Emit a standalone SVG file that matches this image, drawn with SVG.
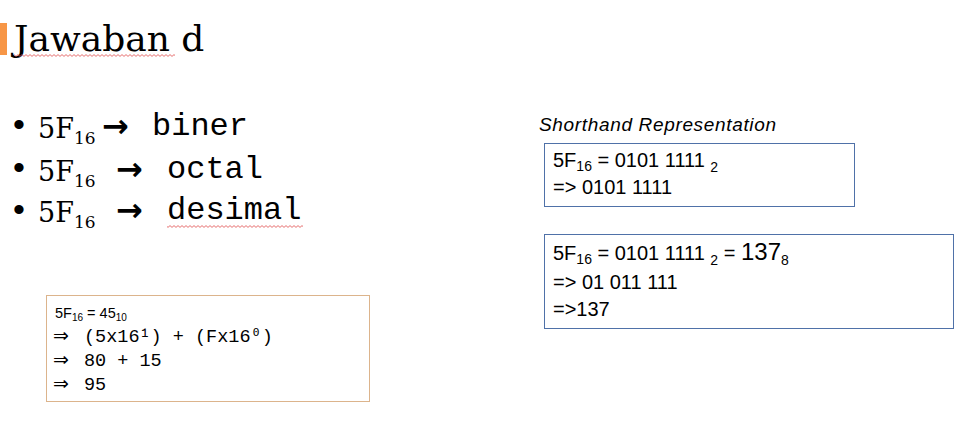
<svg xmlns="http://www.w3.org/2000/svg" width="968" height="421" viewBox="0 0 968 421">
<style>
.serif{font-family:"DejaVu Serif","Liberation Serif",serif;fill:#000}
.mono{font-family:"Liberation Mono","DejaVu Sans Mono",monospace;fill:#000}
.sans{font-family:"Liberation Sans","Noto Sans",sans-serif;fill:#000}
.arr{font-family:"DejaVu Sans",sans-serif;font-weight:bold;fill:#000}
.imp{font-family:"DejaVu Sans",sans-serif;font-weight:normal;fill:#000}
.box{fill:#fff;stroke-width:1}
.blue{stroke:#4f71a8}
.tan{stroke:#dcb48c}
</style>
<defs>
<pattern id="sq" width="4" height="3" patternUnits="userSpaceOnUse">
<path d="M0 2.4 L2 0.6 L4 2.4" fill="none" stroke="#e04a4a" stroke-width="0.8"/>
</pattern>
</defs>
<rect width="968" height="421" fill="#fff"/>

<g id="title">
<rect x="0" y="23" width="7" height="32" fill="#f79646"/>
<text class="serif" x="14" y="51" font-size="36">Jawaban d</text>
<rect x="14" y="54" width="161" height="3" fill="url(#sq)"/>
</g>

<g id="bullets">
<g id="bullet1">
<text class="sans" x="13" y="136" font-size="34">•</text>
<text class="serif" x="38" y="138" font-size="27">5F<tspan font-size="17" dy="6">16</tspan></text>
<text class="arr" x="102" y="137" font-size="32">→</text>
<text class="mono" x="152" y="135" font-size="32">biner</text>
</g>
<g id="bullet2">
<text class="sans" x="13" y="179" font-size="34">•</text>
<text class="serif" x="38" y="181" font-size="27">5F<tspan font-size="17" dy="6">16</tspan></text>
<text class="arr" x="116" y="180" font-size="32">→</text>
<text class="mono" x="167" y="178" font-size="32">octal</text>
</g>
<g id="bullet3">
<text class="sans" x="13" y="221" font-size="34">•</text>
<text class="serif" x="38" y="222" font-size="27">5F<tspan font-size="17" dy="6">16</tspan></text>
<text class="arr" x="116" y="221" font-size="32">→</text>
<text class="mono" x="167" y="219" font-size="32">desimal</text>
<rect x="167" y="225" width="136" height="3" fill="url(#sq)"/>
</g>
</g>

<g id="decimal-box">
<rect class="box tan" x="46.5" y="295.5" width="323" height="106"/>
<text class="sans" x="55" y="318" font-size="14.5">5F<tspan font-size="10" dy="3">16</tspan><tspan dy="-3"> = 45</tspan><tspan font-size="10" dy="3">10</tspan></text>
<text class="imp" x="53" y="342" font-size="19">⇒</text>
<text class="mono" x="84" y="342" font-size="18.5">(5x16¹) + (Fx16⁰)</text>
<text class="imp" x="53" y="366" font-size="19">⇒</text>
<text class="mono" x="84" y="366" font-size="18.5">80 + 15</text>
<text class="imp" x="53" y="390" font-size="19">⇒</text>
<text class="mono" x="84" y="390" font-size="18.5">95</text>
</g>

<g id="shorthand-label">
<text class="sans" x="539" y="131" font-size="19" font-style="italic" textLength="237" lengthAdjust="spacing">Shorthand Representation</text>
</g>

<g id="binary-box">
<rect class="box blue" x="544.5" y="143.5" width="310" height="63"/>
<text class="sans" x="553" y="167" font-size="20">5F<tspan font-size="14" dy="4">16</tspan><tspan dy="-4"> = 0101 1111 </tspan><tspan font-size="14" dy="5">2</tspan></text>
<text class="sans" x="553" y="194" font-size="20">=&gt; 0101 1111</text>
</g>

<g id="octal-box">
<rect class="box blue" x="544.5" y="234.5" width="409" height="94"/>
<text class="sans" x="553" y="260" font-size="20">5F<tspan font-size="14" dy="4">16</tspan><tspan dy="-4"> = 0101 1111 </tspan><tspan font-size="14" dy="5">2</tspan><tspan dy="-5"> = </tspan><tspan font-size="24">137</tspan><tspan font-size="14" dy="5">8</tspan></text>
<text class="sans" x="553" y="289" font-size="20">=&gt; 01 011 111</text>
<text class="sans" x="553" y="316" font-size="20">=&gt;137</text>
</g>
</svg>
